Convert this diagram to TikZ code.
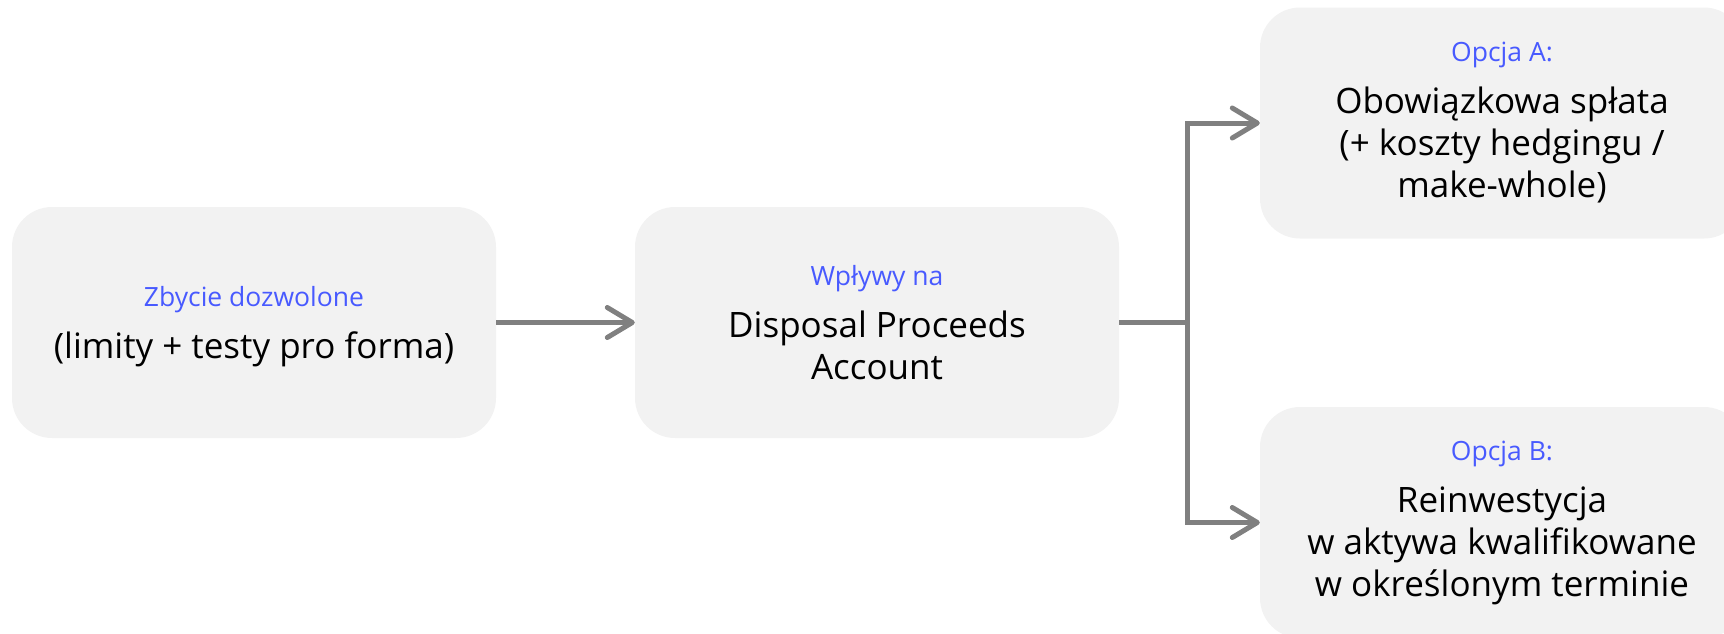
\documentclass[tikz,border=0pt]{standalone}
\usepackage{fontspec}
\setmainfont{Open Sans}
\usetikzlibrary{arrows.meta}
\definecolor{boxfill}{HTML}{F2F2F2}
\definecolor{linegray}{HTML}{808080}
\definecolor{headblue}{RGB}{72,90,255}
\tikzset{
  card/.style={fill=boxfill, rounded corners=40pt, minimum width=484pt,
    minimum height=231pt, inner sep=0pt, align=center,
    font=\fontsize{35}{42}\selectfont},
  flow/.style={draw=linegray, line width=5pt,
    -{Straight Barb[length=25pt, width=30pt, round]}},
  trunk/.style={draw=linegray, line width=5pt},
}
\newcommand{\cardhead}[1]{{\fontsize{26.5}{42}\selectfont\color{headblue}#1}\\[10pt]}
\begin{document}
\begin{tikzpicture}[x=1pt, y=-1pt]
  \useasboundingbox (0,0) rectangle (1724,633);
  \begin{scope}
    \clip (0,0) rectangle (1724,633);
    % the strut lowers the two-line text block a little inside its card
    \node[card] (src) at (254,322.5) {\cardhead{\rule{0pt}{28pt}Zbycie dozwolone}(limity + testy pro forma)};
    \node[card] (acct) at (877,322.5) {\cardhead{Wpływy na}Disposal Proceeds\\Account};
    \node[card] (optA) at (1502,123) {\cardhead{Opcja A:}Obowiązkowa spłata\\(+ koszty hedgingu /\\make-whole)};
    \node[card] (optB) at (1502,522.5) {\cardhead{Opcja B:}Reinwestycja\\w aktywa kwalifikowane\\w określonym terminie};
  \end{scope}
  \coordinate (fork) at (1187,322.5);
  \draw[flow] (src.east) -- (acct.west);
  \draw[trunk] (acct.east) -- (fork);
  \draw[flow] (fork) |- (optA.west);
  \draw[flow] (fork) |- (optB.west);
\end{tikzpicture}
\end{document}
